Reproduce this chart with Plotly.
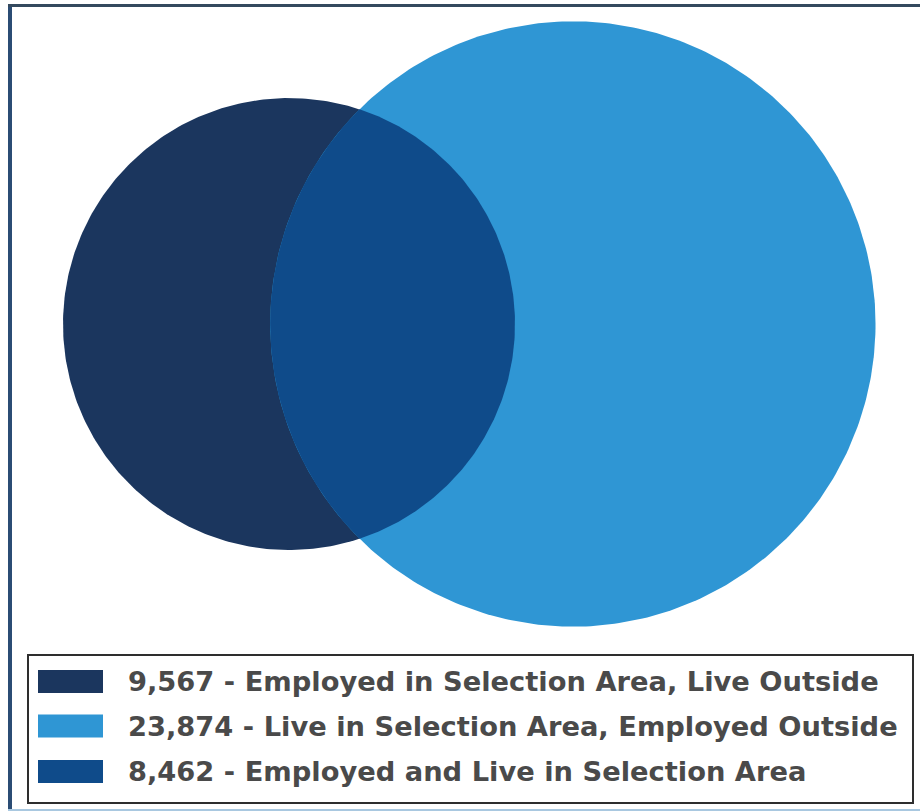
import numpy as np
import plotly.graph_objects as go

# Commuting flows for the selection area
labels = [
    "Employed in Selection Area, Live Outside",
    "Live in Selection Area, Employed Outside",
    "Employed and Live in Selection Area",
]
values = [9567, 23874, 8462]
colors = ["#1b365e", "#2f96d4", "#0f4b8a"]

W, H = 920, 812

# Circle areas: each set is its exclusive part plus the shared part
area_a = values[0] + values[2]
area_b = values[1] + values[2]
r_a = np.sqrt(area_a / np.pi)
r_b = np.sqrt(area_b / np.pi)


def lens_area(d, r1, r2):
    a1 = r1 ** 2 * np.arccos((d * d + r1 * r1 - r2 * r2) / (2 * d * r1))
    a2 = r2 ** 2 * np.arccos((d * d + r2 * r2 - r1 * r1) / (2 * d * r2))
    a3 = 0.5 * np.sqrt((-d + r1 + r2) * (d + r1 - r2) * (d - r1 + r2) * (d + r1 + r2))
    return a1 + a2 - a3


# Find the centre distance that gives the shared area
lo, hi = abs(r_b - r_a) + 1e-9, r_a + r_b - 1e-9
for _ in range(200):
    mid = 0.5 * (lo + hi)
    if lens_area(mid, r_a, r_b) > values[2]:
        lo = mid
    else:
        hi = mid
d = 0.5 * (lo + hi)

# Intersection geometry
x0 = (d * d + r_a * r_a - r_b * r_b) / (2 * d)
h = np.sqrt(r_a * r_a - x0 * x0)
th_a = np.arctan2(h, x0)
th_b = np.arctan2(h, d - x0)

t = np.linspace(0, 2 * np.pi, 400)
ta = np.linspace(-th_a, th_a, 200)
tb = np.linspace(np.pi - th_b, np.pi + th_b, 200)
lens_x = np.concatenate([r_a * np.cos(ta), d + r_b * np.cos(tb)])
lens_y = np.concatenate([r_a * np.sin(ta), r_b * np.sin(tb)])

fig = go.Figure()
fig.add_trace(go.Scatter(x=r_a * np.cos(t), y=r_a * np.sin(t), fill="toself",
                         fillcolor=colors[0], line=dict(width=0), mode="lines",
                         hoverinfo="skip", showlegend=False))
fig.add_trace(go.Scatter(x=d + r_b * np.cos(t), y=r_b * np.sin(t), fill="toself",
                         fillcolor=colors[1], line=dict(width=0), mode="lines",
                         hoverinfo="skip", showlegend=False))
fig.add_trace(go.Scatter(x=lens_x, y=lens_y, fill="toself",
                         fillcolor=colors[2], line=dict(width=0), mode="lines",
                         hoverinfo="skip", showlegend=False))

# Axis ranges: equal scale, left circle centred at (289, 324) px
s = 226.0 / r_a
cx, cy = 289.0, 324.0
x_range = [-cx / s, (W - cx) / s]
y_range = [-(H - cy) / s, cy / s]


def px(x):
    return x / W


def py(y):
    return 1 - y / H


shapes = []
# Frame around the figure
shapes.append(dict(type="line", xref="paper", yref="paper", x0=px(10), x1=px(10),
                   y0=py(5), y1=py(810), line=dict(color="#2b4c74", width=4)))
shapes.append(dict(type="line", xref="paper", yref="paper", x0=px(8), x1=px(W),
                   y0=py(5.5), y1=py(5.5), line=dict(color="#34495e", width=3)))
shapes.append(dict(type="line", xref="paper", yref="paper", x0=px(8), x1=px(W),
                   y0=py(810), y1=py(810), line=dict(color="#a9c8e0", width=2)))
# Legend box
shapes.append(dict(type="rect", xref="paper", yref="paper", x0=px(28), x1=px(913),
                   y0=py(803), y1=py(655), line=dict(color="#2e2e2e", width=2),
                   fillcolor="white", layer="below"))

annotations = []
row_y = [681.5, 726, 771.5]
for lab, val, col, ry in zip(labels, values, colors, row_y):
    shapes.append(dict(type="rect", xref="paper", yref="paper", x0=px(38), x1=px(103),
                       y0=py(ry + 11.5), y1=py(ry - 11.5), line=dict(width=0),
                       fillcolor=col))
    annotations.append(dict(x=px(126), y=py(ry), xref="paper", yref="paper",
                            xanchor="left", yanchor="middle", showarrow=False,
                            text=f"{val:,} - {lab}",
                            font=dict(family="DejaVu Sans", size=27.3, weight="bold",
                                      color="#4a4a4a")))

fig.update_layout(
    width=W, height=H,
    margin=dict(l=0, r=0, t=0, b=0),
    paper_bgcolor="white", plot_bgcolor="white",
    xaxis=dict(range=x_range, visible=False, fixedrange=True),
    yaxis=dict(range=y_range, visible=False, fixedrange=True),
    shapes=shapes, annotations=annotations, showlegend=False,
)
fig.write_html("out.html")
